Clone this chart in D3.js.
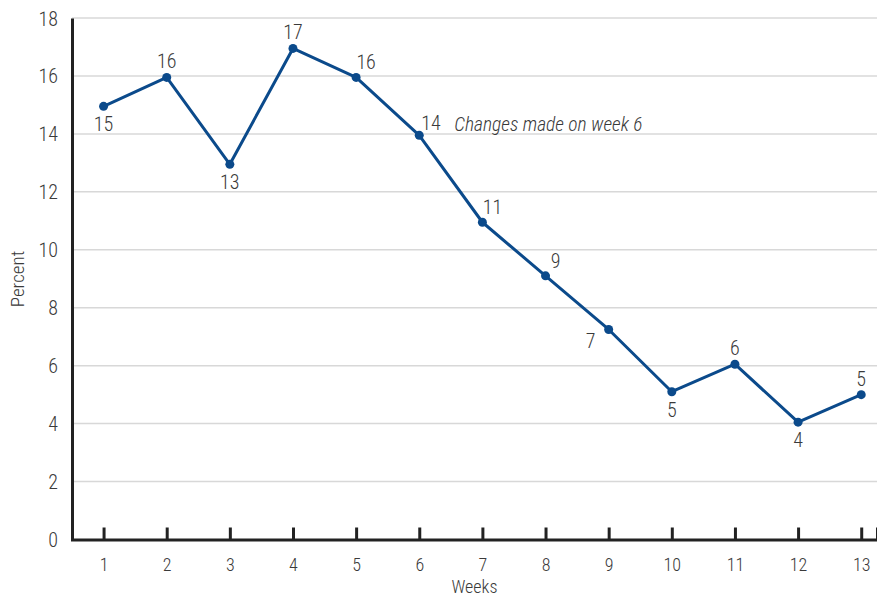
<!DOCTYPE html>
<html>
<head>
<meta charset="utf-8">
<script src="https://cdn.jsdelivr.net/npm/d3@7"></script>
<style>
  body { margin: 0; background: #fff; }
  text { font-family: "Liberation Sans Narrow", "Roboto Condensed", "Liberation Sans", sans-serif; font-weight: 300; fill: #3a3a3a; }
</style>
</head>
<body>
<div id="chart"></div>
<script>
var width = 877;
var height = 597;
var margin = { top: 18, right: 0, bottom: 57, left: 72 };

// data
var weeks = [1, 2, 3, 4, 5, 6, 7, 8, 9, 10, 11, 12, 13];
var percent = [14.95, 15.95, 12.95, 16.95, 15.95, 13.95, 10.95, 9.1, 7.25, 5.1, 6.05, 4.05, 5.0];
var pointLabels = ["15", "16", "13", "17", "16", "14", "11", "9", "7", "5", "6", "4", "5"];
var labelSide = ["below", "above", "below", "above", "aboveRight", "right", "aboveRight", "aboveRight", "belowLeft", "below", "above", "below", "above"];
var yTicks = [0, 2, 4, 6, 8, 10, 12, 14, 16, 18];
var note = "Changes made on week 6";

var lineColor = "#0b4a8b";

var x = d3.scaleLinear()
    .domain([0.5, 13.25])
    .range([margin.left, width - margin.right]);

var y = d3.scaleLinear()
    .domain([0, 18])
    .range([height - margin.bottom - 0.5, margin.top]);

var svg = d3.select("#chart")
    .append("svg")
    .attr("width", width)
    .attr("height", height);

// gridlines
svg.append("g")
    .selectAll("line")
    .data(yTicks.filter(function(d) { return d > 0; }))
    .enter()
    .append("line")
    .attr("x1", margin.left)
    .attr("x2", width - margin.right)
    .attr("y1", function(d) { return y(d); })
    .attr("y2", function(d) { return y(d); })
    .attr("stroke", "#d8d8d8")
    .attr("stroke-width", 1.5);

// y axis
var yAxis = svg.append("g")
    .attr("transform", "translate(" + margin.left + ",0)")
    .call(d3.axisLeft(y).tickValues(yTicks).tickSize(0).tickPadding(14));
yAxis.select(".domain").attr("stroke", "#222").attr("stroke-width", 3);
yAxis.selectAll("text").style("font-size", "20px").attr("fill", "#3a3a3a").attr("dy", "0.35em");

// x axis, ticks pointing up
var xAxis = svg.append("g")
    .attr("transform", "translate(0," + y(0) + ")")
    .call(d3.axisBottom(x).tickValues(weeks).tickSize(-12).tickPadding(19).tickFormat(d3.format("d")));
xAxis.select(".domain").attr("stroke", "#222").attr("stroke-width", 3);
xAxis.selectAll(".tick line").attr("stroke", "#222").attr("stroke-width", 3);
xAxis.selectAll("text").style("font-size", "18px").attr("fill", "#3a3a3a");

// line
var line = d3.line()
    .x(function(d, i) { return x(weeks[i]); })
    .y(function(d) { return y(d); });

svg.append("path")
    .datum(percent)
    .attr("d", line)
    .attr("fill", "none")
    .attr("stroke", lineColor)
    .attr("stroke-width", 3)
    .attr("stroke-linejoin", "round");

svg.append("g")
    .selectAll("circle")
    .data(percent)
    .enter()
    .append("circle")
    .attr("cx", function(d, i) { return x(weeks[i]); })
    .attr("cy", function(d) { return y(d); })
    .attr("r", 4.5)
    .attr("fill", lineColor);

// value labels
var offsets = {
    below: [0, 25, "middle"],
    above: [0, -9, "middle"],
    aboveRight: [10, -8, "middle"],
    right: [2, -5, "start"],
    belowLeft: [-18, 19, "middle"]
};

svg.append("g")
    .selectAll("text")
    .data(percent)
    .enter()
    .append("text")
    .attr("x", function(d, i) { return x(weeks[i]) + offsets[labelSide[i]][0]; })
    .attr("y", function(d, i) { return y(d) + offsets[labelSide[i]][1]; })
    .attr("text-anchor", function(d, i) { return offsets[labelSide[i]][2]; })
    .style("font-size", "20px")
    .text(function(d, i) { return pointLabels[i]; });

// annotation
svg.append("text")
    .attr("x", x(6) + 35)
    .attr("y", y(percent[5]) - 4)
    .style("font-size", "19.5px")
    .style("font-style", "italic")
    .text(note);

// axis titles
svg.append("text")
    .attr("transform", "translate(24," + ((margin.top + height - margin.bottom) / 2) + ") rotate(-90)")
    .attr("text-anchor", "middle")
    .style("font-size", "19px")
    .text("Percent");

svg.append("text")
    .attr("x", (margin.left + width) / 2)
    .attr("y", 593)
    .attr("text-anchor", "middle")
    .style("font-size", "18px")
    .text("Weeks");
</script>
</body>
</html>
